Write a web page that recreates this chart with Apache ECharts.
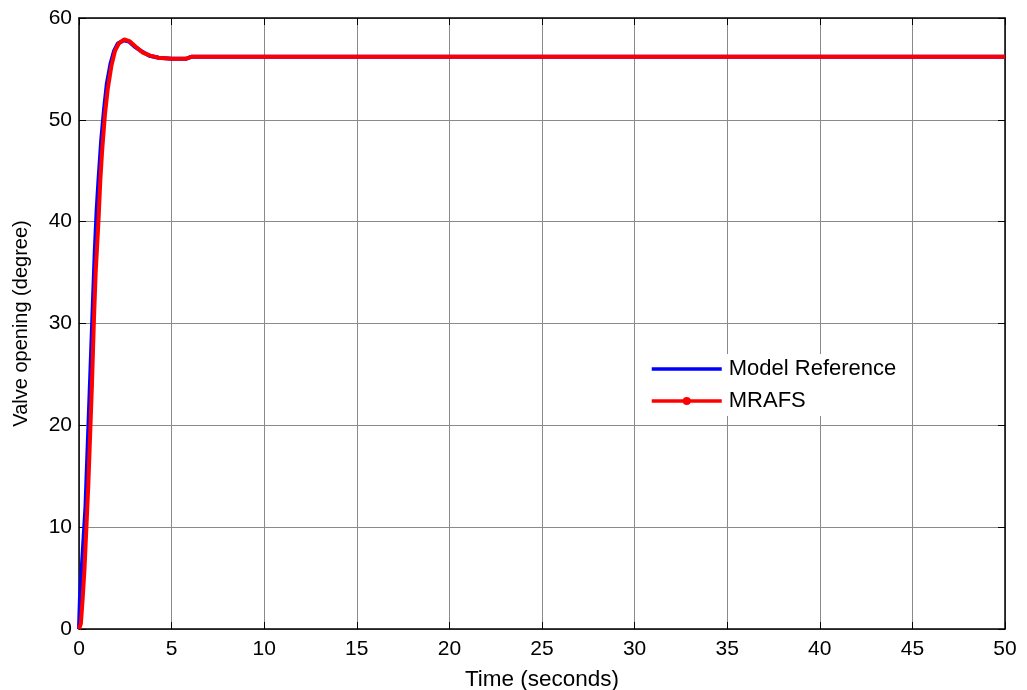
<!DOCTYPE html>
<html>
<head>
<meta charset="utf-8">
<script src="https://cdn.jsdelivr.net/npm/echarts@6/dist/echarts.min.js"></script>
<style>
html, body { margin: 0; padding: 0; background: #fff; }
#chart { width: 1027px; height: 690px; }
</style>
</head>
<body>
<div id="chart"></div>
<script>
// step response: [time (s), valve opening (deg)]
var modelRef = [
    [0, 0], [0.05, 3], [0.15, 6], [0.25, 9], [0.35, 12], [0.45, 17], [0.55, 22],
    [0.65, 27], [0.75, 32], [0.85, 37], [0.95, 41], [1.05, 44], [1.2, 48],
    [1.35, 51], [1.5, 53.5], [1.7, 55.5], [1.9, 56.8], [2.1, 57.5], [2.4, 57.8],
    [2.7, 57.7], [3.0, 57.2], [3.4, 56.7], [3.8, 56.3], [4.3, 56.1], [5, 56.0],
    [5.8, 56.0], [6.1, 56.2], [50, 56.2]
];
var mrafs = [
    [0, 0], [0.1, 0.5], [0.2, 3], [0.3, 6], [0.4, 10], [0.5, 14], [0.6, 19],
    [0.7, 24], [0.8, 30], [0.9, 35], [1.05, 40], [1.15, 44], [1.25, 47],
    [1.4, 50.5], [1.55, 53], [1.75, 55.3], [1.95, 56.8], [2.15, 57.5], [2.45, 57.9],
    [2.75, 57.7], [3.05, 57.2], [3.45, 56.6], [3.85, 56.3], [4.3, 56.1], [5, 56.0],
    [5.8, 56.0], [6.1, 56.2], [50, 56.2]
];
var seriesNames = ['Model Reference', 'MRAFS'];
var xTicks = { min: 0, max: 50, step: 5 };
var yTicks = { min: 0, max: 60, step: 10 };

var chart = echarts.init(document.getElementById('chart'));
var font = 'Liberation Sans, Arial, sans-serif';

function boxAxis(pos, t, main) {
    return {
        type: 'value',
        position: pos,
        min: t.min,
        max: t.max,
        interval: t.step,
        axisLine: { show: true, onZero: false, lineStyle: { color: '#000', width: 1.5 } },
        axisTick: { show: true, inside: true, length: 7, lineStyle: { color: '#000' } },
        axisLabel: main ? { color: '#000', fontSize: 21, fontFamily: font, margin: 10 } : { show: false },
        splitLine: main ? { show: true, lineStyle: { color: '#8a8a8a', width: 1 } } : { show: false }
    };
}

var xMain = boxAxis('bottom', xTicks, true);
xMain.name = 'Time (seconds)';
xMain.nameLocation = 'middle';
xMain.nameGap = 39;
xMain.nameTextStyle = { color: '#000', fontSize: 22.5, fontFamily: font };
var yMain = boxAxis('left', yTicks, true);
yMain.axisLabel.margin = 7;
yMain.name = 'Valve opening (degree)';
yMain.nameLocation = 'middle';
yMain.nameGap = 48;
yMain.nameTextStyle = { color: '#000', fontSize: 20, fontFamily: font };

var option = {
    backgroundColor: '#fff',
    animation: false,
    grid: { left: 79, right: 22, top: 18, bottom: 61, outerBoundsMode: 'none', containLabel: false },
    xAxis: [xMain, boxAxis('top', xTicks, false)],
    yAxis: [yMain, boxAxis('right', yTicks, false)],
    legend: {
        orient: 'vertical',
        left: 642,
        top: 354,
        backgroundColor: '#fff',
        padding: [4, 8, 4, 8],
        itemWidth: 70,
        itemHeight: 10,
        itemGap: 10,
        textStyle: { color: '#000', fontSize: 22, fontFamily: font, padding: [0, 0, 0, 2] },
        data: [
            { name: seriesNames[0], itemStyle: { opacity: 0 }, lineStyle: { width: 3.5 } },
            { name: seriesNames[1], lineStyle: { width: 3.5 } }
        ]
    },
    series: [
        {
            name: seriesNames[0],
            type: 'line',
            data: modelRef,
            symbol: 'none',
            lineStyle: { color: '#0000ff', width: 4 },
            itemStyle: { color: '#0000ff' },
            z: 2
        },
        {
            name: seriesNames[1],
            type: 'line',
            data: mrafs,
            symbol: 'circle',
            symbolSize: 8,
            showSymbol: false,
            lineStyle: { color: '#ff0000', width: 4 },
            itemStyle: { color: '#ff0000' },
            z: 3
        }
    ]
};
chart.setOption(option);
</script>
</body>
</html>
